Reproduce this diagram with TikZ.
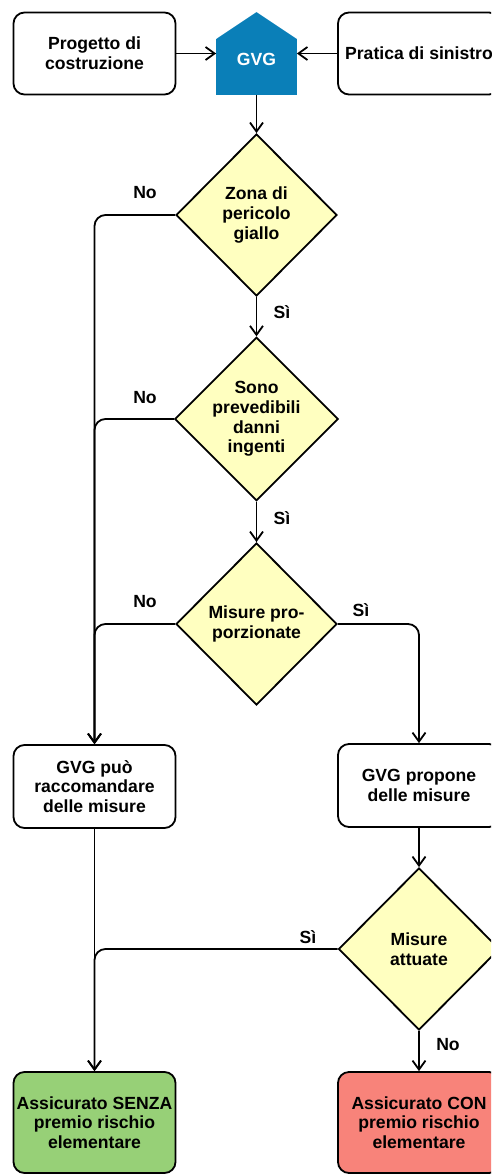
\documentclass[tikz,border=0pt]{standalone}
\usepackage{fontspec}
\setmainfont{Liberation Sans}
\usetikzlibrary{shapes.geometric,arrows.meta,calc}

\definecolor{gvgblue}{HTML}{0A7FB8}
\definecolor{decyellow}{HTML}{FFFFC0}
\definecolor{okgreen}{HTML}{97D077}
\definecolor{kored}{HTML}{F8837A}

\begin{document}
\begin{tikzpicture}[x=1pt, y=-1pt, line width=1.8pt,
    every node/.style={font=\fontsize{17.6}{19.8}\selectfont\bfseries, align=center},
    box/.style={draw, rounded corners=11pt, minimum width=162pt, minimum height=82pt, inner sep=0pt},
    decision/.style={draw, diamond, fill=decyellow, minimum width=161pt, minimum height=162pt, inner sep=0pt},
    flow/.style={-{Straight Barb[length=9pt, width=13pt]}, rounded corners=11pt},
    answer/.style={inner sep=0pt}]
        \useasboundingbox (0,0) rectangle (491,1175);
        \clip (0,0) rectangle (491,1175);

        % Nodes
        \node[box] (proj) at (94.5, 53.5) {Progetto di\\costruzione};
        \node[minimum width=79pt, minimum height=81pt, inner sep=0pt] (gvg) at (256.5, 53.5) {};
        \node[box] (sin) at (419, 53.5) {Pratica di sinistro};

        \node[decision] (zona) at (256.5, 215) {Zona di\\pericolo\\giallo};
        \node[decision] (danni) at (256.5, 419) {Sono\\prevedibili\\danni\\ingenti};
        \node[decision] (prop) at (256.5, 624) {Misure pro-\\porzionate};

        \node[box, minimum height=83pt] (racc) at (94.5, 786.5) {GVG può\\raccomandare\\delle misure};
        \node[box, minimum height=83pt] (propone) at (419, 785.5) {GVG propone\\delle misure};

        \node[decision] (attuate) at (419, 949) {Misure\\attuate};

        \node[box, fill=okgreen, minimum height=101pt] (senza) at (94.5, 1122.5) {Assicurato SENZA\\premio rischio\\elementare};
        \node[box, fill=kored, minimum height=101pt] (con) at (419, 1122.5) {Assicurato CON\\premio rischio\\elementare};

        % GVG house
        \fill[gvgblue] (gvg.south west) -- ($(gvg.north west)+(0,27)$) -- (gvg.north)
            -- ($(gvg.north east)+(0,27)$) -- (gvg.south east) -- cycle;
        \node[text=white] at ($(gvg.center)+(0,6)$) {GVG};

        % Edges
        \draw[flow] (proj) -- (gvg);
        \draw[flow] (sin) -- (gvg);
        \draw[flow] (gvg) -- (zona);
        \draw[flow] (zona) -- (danni);
        \draw[flow] (danni) -- (prop);
        \draw[flow] (zona.west) -| (racc.north);
        \draw[flow] (danni.west) -| (racc.north);
        \draw[flow] (prop.west) -| (racc.north);
        \draw[flow] (prop.east) -| (propone.north);
        \draw[flow] (propone) -- (attuate);
        \draw[flow] (attuate.west) -| (senza.north);
        \draw[flow] (racc) -- (senza);
        \draw[flow] (attuate) -- (con);

        % Labels
        \node[answer] at (145, 193) {No};
        \node[answer] at (282, 312) {Sì};
        \node[answer] at (145, 398) {No};
        \node[answer] at (282, 518) {Sì};
        \node[answer] at (145, 602) {No};
        \node[answer] at (361, 610) {Sì};
        \node[answer] at (308, 937) {Sì};
        \node[answer] at (448, 1045) {No};
    \end{tikzpicture}
\end{document}
